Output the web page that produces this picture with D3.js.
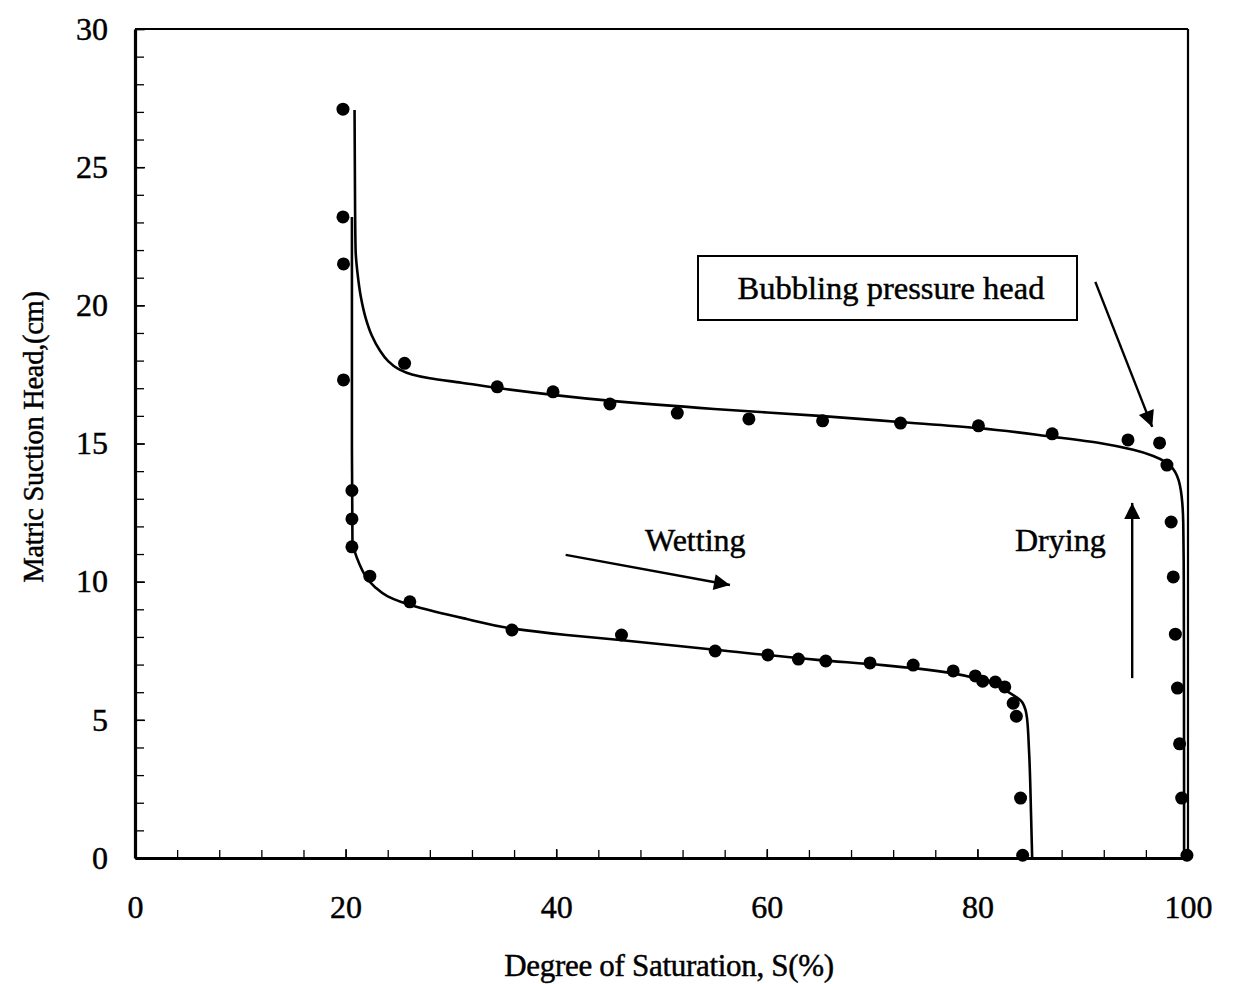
<!DOCTYPE html>
<html>
<head>
<meta charset="utf-8">
<script src="https://cdn.jsdelivr.net/npm/d3@7"></script>
<style>
  html, body { margin: 0; padding: 0; background: #fff; }
  svg { display: block; font-family: "Liberation Serif", "Times New Roman", serif; }
  svg text { stroke: #000; stroke-width: 0.45px; fill: #000; }
</style>
</head>
<body>
<svg id="chart" width="1236" height="984"></svg>
<script>
// Measured drying branch (degree of saturation %, matric suction head cm)
const dryS = [19.75, 19.75, 19.8, 19.8, 25.6, 34.4, 39.7, 45.1, 51.5, 58.3, 65.3, 72.7, 80.1, 87.1, 94.3, 97.3, 98.0, 98.4, 98.6, 98.8, 99.0, 99.2, 99.4, 99.9];
const dryH = [27.1, 23.2, 21.5, 17.3, 17.9, 17.05, 16.87, 16.43, 16.1, 15.89, 15.82, 15.74, 15.64, 15.35, 15.13, 15.02, 14.22, 12.16, 10.17, 8.1, 6.15, 4.13, 2.17, 0.1];

// Measured wetting branch
const wetS = [20.6, 20.6, 20.6, 22.3, 26.1, 35.8, 46.2, 55.1, 60.1, 63.0, 65.6, 69.8, 73.9, 77.7, 79.8, 80.5, 81.7, 82.6, 83.4, 83.7, 84.1, 84.3];
const wetH = [13.3, 12.27, 11.26, 10.2, 9.27, 8.25, 8.07, 7.49, 7.35, 7.2, 7.13, 7.06, 6.98, 6.77, 6.59, 6.4, 6.37, 6.19, 5.6, 5.13, 2.17, 0.1];

// Fitted drying curve
const dryFitS = [20.85, 20.9, 20.95, 21.15, 21.45, 21.9, 22.5, 23.2, 24.0, 25.0, 26.3, 28.0, 31.0, 35, 45, 55, 65, 72.6, 80, 87.2, 91.6, 94.8, 96.7, 98.0, 99.0, 99.4, 99.55, 99.6, 99.62, 99.63];
const dryFitH = [27.07, 23.5, 22.0, 21.1, 20.3, 19.55, 18.9, 18.4, 18.0, 17.7, 17.5, 17.36, 17.2, 16.98, 16.55, 16.25, 16.0, 15.78, 15.56, 15.24, 15.02, 14.77, 14.55, 14.3, 13.79, 13.07, 12.1, 10, 5, 0];

// Fitted wetting curve
const wetFitS = [20.6, 20.6, 20.65, 20.9, 21.3, 21.9, 22.8, 24.0, 26.8, 31.5, 35.9, 41.0, 45.8, 55.3, 64.8, 71.0, 77.4, 80.5, 83.1, 84.3, 84.7, 84.9, 85.1, 85.2];
const wetFitH = [23.2, 15, 11.5, 11.05, 10.65, 10.2, 9.8, 9.47, 9.08, 8.65, 8.3, 8.07, 7.9, 7.53, 7.17, 6.98, 6.70, 6.44, 5.97, 5.61, 5.10, 3.91, 1.5, 0];

// Axis ticks
const xTicks = [0, 20, 40, 60, 80, 100];
const xMinor = d3.range(0, 101, 4);
const yTicks = [0, 5, 10, 15, 20, 25, 30];
const yMinor = d3.range(0, 31, 1);

const svg = d3.select("#chart");
const plotLeft = 135, plotRight = 1188, plotTop = 29, plotBottom = 858;

const x = d3.scaleLinear().domain([0, 100]).range([plotLeft, plotRight]);
const y = d3.scaleLinear().domain([0, 30]).range([plotBottom, plotTop]);

// Frame: top and right borders
svg.append("line").attr("x1", plotLeft).attr("x2", plotRight).attr("y1", plotTop).attr("y2", plotTop)
  .attr("stroke", "#000").attr("stroke-width", 2.2);
svg.append("line").attr("x1", plotRight).attr("x2", plotRight).attr("y1", plotTop).attr("y2", plotBottom)
  .attr("stroke", "#000").attr("stroke-width", 2.2);

// Minor ticks (inward)
svg.append("g").attr("transform", `translate(0,${plotBottom})`)
  .call(d3.axisBottom(x).tickValues(xMinor).tickSize(-8).tickSizeOuter(0).tickFormat(""))
  .call(g => g.select(".domain").remove())
  .selectAll("line").attr("stroke-width", 1.3);
svg.append("g").attr("transform", `translate(${plotLeft},0)`)
  .call(d3.axisLeft(y).tickValues(yMinor).tickSize(-9).tickSizeOuter(0).tickFormat(""))
  .call(g => g.select(".domain").remove())
  .selectAll("line").attr("stroke-width", 1.3);

// Major axes with labels
const xAxis = svg.append("g").attr("transform", `translate(0,${plotBottom})`)
  .call(d3.axisBottom(x).tickValues(xTicks).tickSize(-9).tickSizeOuter(0).tickPadding(37));
const yAxis = svg.append("g").attr("transform", `translate(${plotLeft},0)`)
  .call(d3.axisLeft(y).tickValues(yTicks).tickSize(-10).tickSizeOuter(0).tickPadding(27));
[xAxis, yAxis].forEach(g => {
  g.attr("font-family", null).attr("font-size", null);
  g.select(".domain").attr("stroke-width", 3.2);
  g.selectAll(".tick line").attr("stroke-width", 1.5);
  g.selectAll(".tick text").attr("font-size", 32).attr("fill", "#000");
});

// Axis titles
svg.append("text").attr("x", 669).attr("y", 976).attr("text-anchor", "middle")
  .attr("font-size", 31).attr("letter-spacing", -0.3).text("Degree of Saturation, S(%)");
svg.append("text").attr("transform", "translate(43,437) rotate(-90)").attr("text-anchor", "middle")
  .attr("font-size", 28.5).attr("letter-spacing", -0.3).text("Matric Suction Head,(cm)");

// Fitted curves
const fitLine = d3.line().x(d => x(d[0])).y(d => y(d[1])).curve(d3.curveMonotoneY);
[[dryFitS, dryFitH], [wetFitS, wetFitH]].forEach(([s, h]) => {
  svg.append("path").datum(s.map((v, i) => [v, h[i]]))
    .attr("d", fitLine).attr("fill", "none").attr("stroke", "#000").attr("stroke-width", 2.6);
});

// Measured points
const pts = dryS.map((v, i) => [v, dryH[i]]).concat(wetS.map((v, i) => [v, wetH[i]]));
svg.append("g").selectAll("circle").data(pts).join("circle")
  .attr("cx", d => x(d[0])).attr("cy", d => y(d[1])).attr("r", 6.5).attr("fill", "#000");

// Arrowhead marker
svg.append("defs").append("marker")
  .attr("id", "head").attr("viewBox", "0 0 10 10").attr("refX", 10).attr("refY", 5)
  .attr("markerUnits", "userSpaceOnUse").attr("markerWidth", 22).attr("markerHeight", 16)
  .attr("orient", "auto")
  .append("path").attr("d", "M0,0 L10,5 L0,10 Z").attr("fill", "#000");

const arrows = [
  { from: [40.9, 10.97], to: [56.5, 9.88] },   // wetting direction
  { from: [94.7, 6.51], to: [94.7, 12.85] },   // drying direction
  { from: [91.2, 20.85], to: [96.6, 15.6] }    // bubbling pressure pointer
];
svg.append("g").selectAll("line").data(arrows).join("line")
  .attr("x1", d => x(d.from[0])).attr("y1", d => y(d.from[1]))
  .attr("x2", d => x(d.to[0])).attr("y2", d => y(d.to[1]))
  .attr("stroke", "#000").attr("stroke-width", 2.4).attr("marker-end", "url(#head)");

// Text annotations
svg.append("text").attr("x", 645).attr("y", 551).attr("font-size", 32).text("Wetting");
svg.append("text").attr("x", 1015).attr("y", 551).attr("font-size", 32).text("Drying");

svg.append("rect").attr("x", 698).attr("y", 256).attr("width", 379).attr("height", 64)
  .attr("fill", "#fff").attr("stroke", "#000").attr("stroke-width", 2);
svg.append("text").attr("x", 891).attr("y", 299).attr("text-anchor", "middle")
  .attr("font-size", 32.5).text("Bubbling pressure head");
</script>
</body>
</html>
